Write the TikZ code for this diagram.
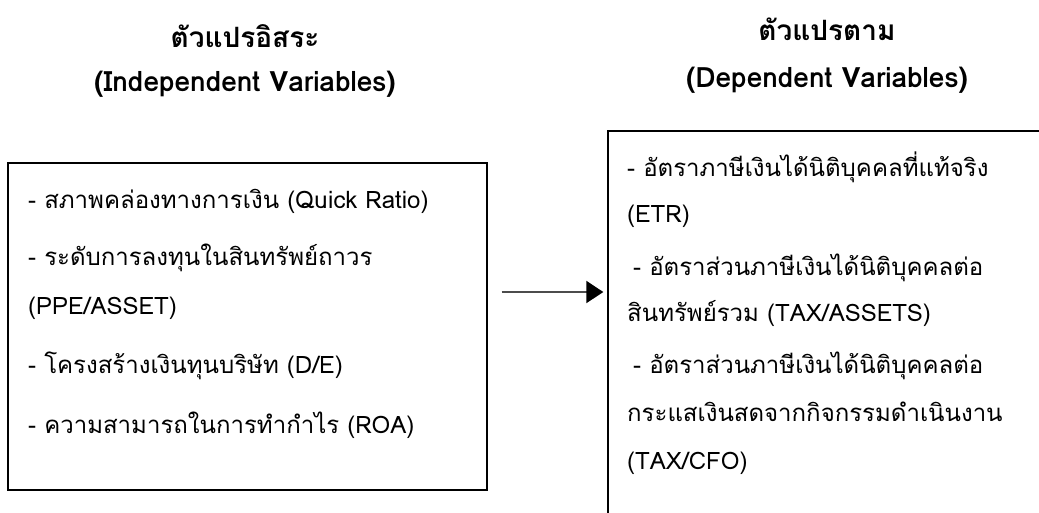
\documentclass[tikz,border=0pt]{standalone}
\usepackage{fontspec}
\setmainfont[Script=Thai]{Loma}
\usetikzlibrary{arrows.meta}
\begin{document}
\begin{tikzpicture}[x=1pt,y=-1pt,
  boxline/.style={draw=black, line width=1.4pt, inner sep=0pt},
  body/.style={anchor=base west, inner sep=0pt, font=\fontsize{24}{28}\selectfont},
  title/.style={anchor=base, inner sep=0pt, font=\bfseries\fontsize{28}{32}\selectfont},
  arr/.style={draw=black!70, line width=2.2pt, -{Triangle[length=17pt,width=22pt,fill=black,color=black]}, shorten <=14pt, shorten >=4pt}]
\useasboundingbox (0,0) rectangle (1039,512);
\clip (0,0) rectangle (1039,512);
% titles
\node[title] (t1) at (245,47) {ตัวแปรอิสระ};
\node[title] (t2) at (245,91) {(Independent Variables)};
\node[title] (t3) at (827,40) {ตัวแปรตาม};
\node[title] (t4) at (827,87) {(Dependent Variables)};
% boxes
\node[boxline, rectangle, minimum width=479pt, minimum height=327pt] (L) at (247.5,326.5) {};
\node[boxline, rectangle, minimum width=440pt, minimum height=400pt] (R) at (828,331) {};
% left text
\node[body] (l1) at (28,208) {- สภาพคล่องทางการเงิน (Quick Ratio)};
\node[body] (l2) at (28,265) {- ระดับการลงทุนในสินทรัพย์ถาวร};
\node[body] (l3) at (28,314) {(PPE/ASSET)};
\node[body] (l4) at (28,373) {- โครงสร้างเงินทุนบริษัท (D/E)};
\node[body] (l5) at (28,433) {- ความสามารถในการทำกำไร (ROA)};
% right text
\node[body] (r1) at (627,176) {- อัตราภาษีเงินได้นิติบุคคลที่แท้จริง};
\node[body] (r2) at (627,222) {(ETR)};
\node[body] (r3) at (633,275) {- อัตราส่วนภาษีเงินได้นิติบุคคลต่อ};
\node[body] (r4) at (627,321) {สินทรัพย์รวม (TAX/ASSETS)};
\node[body] (r5) at (633,373) {- อัตราส่วนภาษีเงินได้นิติบุคคลต่อ};
\node[body] (r6) at (627,421) {กระแสเงินสดจากกิจกรรมดำเนินงาน};
\node[body] (r7) at (627,469) {(TAX/CFO)};
% arrow
\coordinate (ay) at (0,292);
\draw[arr] (L.east |- ay) -- (R.west |- ay);
\end{tikzpicture}
\end{document}
